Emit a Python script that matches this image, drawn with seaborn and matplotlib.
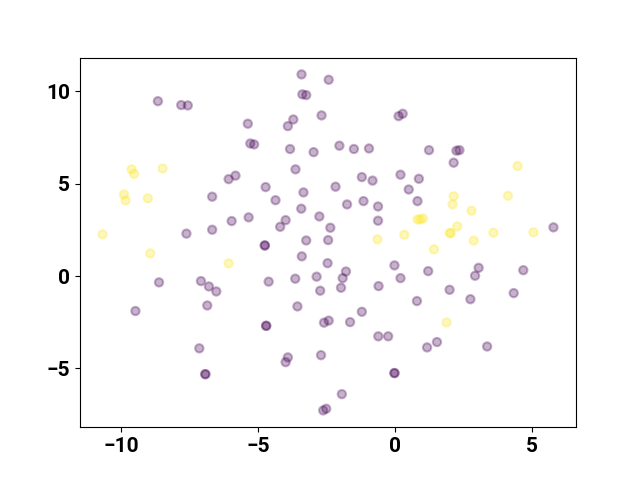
import numpy as np
import pandas as pd
import matplotlib
matplotlib.use('Agg')
import matplotlib.pyplot as plt
from matplotlib.ticker import MultipleLocator
import seaborn as sns

# cluster 0 (purple)
x_purple = [-8.66, -7.81, -7.57, -3.42, -2.43, -3.39, -3.25, -5.38, -3.72, -3.92,
            -2.69, 0.12, 0.27, -5.29, -5.15, -3.84, -2.98, -2.04, -1.51, -0.96,
            -3.64, -4.73, -3.35, -4.37, -2.18, -1.22, -0.83, 0.19, 0.49, -1.76,
            -1.16, -0.63, -3.43, -2.77, -5.35, -4.00, -4.20, -2.37, -0.63, -4.76,
            -4.76, -3.25, -2.45, -6.08, -5.83, -6.68, -5.97, -7.62, -6.68, 1.23,
            2.23, 2.34, 2.13, 0.86, 0.81, 5.77, -8.62, -7.09, -6.80, -6.53,
            -6.86, -9.48, -7.15, -6.93, -6.93, -3.41, -2.47, -0.03, -1.80, -1.92,
            -2.87, -3.65, -4.62, -2.74, -1.98, -0.61, 0.19, -3.57, -4.71, -4.71,
            -2.60, -2.43, -1.65, -1.22, -0.62, -0.26, -3.92, -4.00, -2.71, -0.03,
            -0.03, -1.95, -2.63, -2.52, 1.20, 3.04, 2.91, 4.67, 1.98, 0.79,
            2.74, 4.32, 1.16, 1.52, 3.35]
y_purple = [9.47, 9.26, 9.24, 10.92, 10.63, 9.84, 9.80, 8.25, 8.48, 8.12,
            8.70, 8.66, 8.79, 7.18, 7.13, 6.88, 6.71, 7.06, 6.88, 6.91,
            5.78, 4.82, 4.53, 4.11, 4.84, 5.36, 5.17, 5.49, 4.69, 3.88,
            4.06, 3.77, 3.65, 3.23, 3.18, 3.03, 2.67, 2.62, 3.00, 1.66,
            1.66, 1.93, 1.95, 5.25, 5.44, 4.30, 2.98, 2.30, 2.51, 6.82,
            6.79, 6.82, 6.14, 5.27, 4.06, 2.64, -0.34, -0.27, -0.56, -0.83,
            -1.59, -1.89, -3.91, -5.31, -5.31, 1.07, 0.70, 0.58, 0.25, -0.11,
            -0.03, -0.14, -0.30, -0.79, -0.63, -0.54, -0.11, -1.64, -2.69, -2.69,
            -2.52, -2.41, -2.49, -1.93, -3.26, -3.26, -4.40, -4.66, -4.28, -5.25,
            -5.25, -6.39, -7.27, -7.18, 0.27, 0.45, 0.02, 0.32, -0.74, -1.35,
            -1.25, -0.92, -3.86, -3.57, -3.81]

# cluster 1 (yellow)
x_yellow = [-9.62, -9.53, -8.49, -9.90, -9.84, -9.03, -10.68, -0.65, 0.33, 4.46,
            2.13, 2.09, 2.78, 4.11, 0.81, 0.91, 1.01, 1.98, 2.03, 2.26,
            3.58, 5.04, 2.86, 1.41, -8.94, -6.08, 1.87]
y_yellow = [5.78, 5.54, 5.83, 4.42, 4.10, 4.21, 2.26, 1.99, 2.24, 5.96,
            4.32, 3.88, 3.54, 4.35, 3.07, 3.07, 3.12, 2.33, 2.33, 2.69,
            2.35, 2.37, 1.92, 1.45, 1.23, 0.69, -2.51]

df = pd.DataFrame({
    'x': x_purple + x_yellow,
    'y': y_purple + y_yellow,
    'label': [0] * len(x_purple) + [1] * len(x_yellow),
})

viridis = plt.get_cmap('viridis')
fig, ax = plt.subplots(figsize=(6.4, 4.8), dpi=100)
sns.scatterplot(data=df, x='x', y='y', hue='label',
                palette=[viridis(0.0), viridis(1.0)],
                alpha=0.3, s=36, edgecolor='face', linewidth=1.5,
                legend=False, ax=ax)
ax.set_xlabel('')
ax.set_ylabel('')
ax.xaxis.set_major_locator(MultipleLocator(5))
ax.yaxis.set_major_locator(MultipleLocator(5))
for lbl in ax.get_xticklabels() + ax.get_yticklabels():
    lbl.set_fontfamily('Roboto')
    lbl.set_fontweight('bold')
    lbl.set_fontsize(15)

fig.savefig('out.png', dpi=100)
